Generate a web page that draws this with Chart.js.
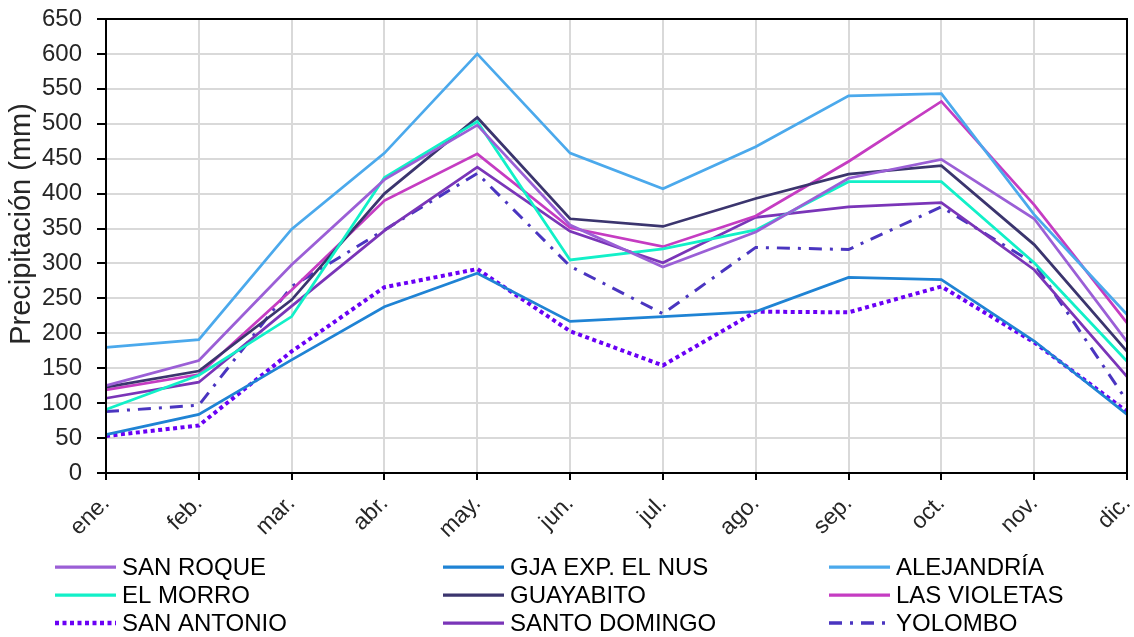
<!DOCTYPE html>
<html>
<head>
<meta charset="utf-8">
<script src="https://cdn.jsdelivr.net/npm/chart.js@4/dist/chart.umd.min.js"></script>
<style>
  html, body { margin: 0; padding: 0; background: #fff; }
  #caja { width: 1134px; height: 637px; }
</style>
</head>
<body>
<div id="caja"><canvas id="graficoPrecipitacion"></canvas></div>
<script>
// ======================================================
// 1. DADOS (mm por mês)
// ======================================================
const meses = ['ene.', 'feb.', 'mar.', 'abr.', 'may.', 'jun.', 'jul.', 'ago.', 'sep.', 'oct.', 'nov.', 'dic.'];
const ticksY = [0, 50, 100, 150, 200, 250, 300, 350, 400, 450, 500, 550, 600, 650];

const sanRoque     = [125, 161, 298, 420, 498, 355, 295, 345, 422, 449, 364, 188];
const gjaElNus     = [55, 84, 162, 238, 286, 217, 224, 231, 280, 277, 189, 84];
const alejandria   = [180, 191, 349, 458, 600, 458, 407, 467, 540, 543, 370, 227];
const elMorro      = [91, 140, 224, 423, 503, 305, 321, 348, 417, 417, 301, 160];
const guayabito    = [123, 146, 248, 400, 509, 364, 353, 393, 428, 440, 327, 174];
const lasVioletas  = [119, 141, 262, 390, 457, 351, 324, 368, 446, 532, 384, 215];
const sanAntonio   = [53, 68, 174, 266, 292, 203, 154, 231, 230, 267, 187, 88];
const santoDomingo = [107, 130, 239, 347, 438, 346, 301, 366, 381, 387, 291, 138];
const yolombo      = [88, 97, 267, 348, 429, 296, 228, 323, 320, 381, 300, 103];

const tituloY = 'Precipitación (mm)';
const fonte = '"Liberation Sans", Arial, sans-serif';

function serie(nome, valores, cor, extra) {
  return Object.assign({
    label: nome,
    data: valores,
    borderColor: cor,
    backgroundColor: cor,
    borderWidth: 2.75,
    pointRadius: 0,
    tension: 0,
    fill: false
  }, extra || {});
}

// ======================================================
// 2. PLUGINS: moldura, título do eixo Y e legenda em 3 colunas
// ======================================================
const moldura = {
  id: 'moldura',
  afterDatasetsDraw(chart) {
    const a = chart.chartArea;
    const ctx = chart.ctx;
    ctx.save();
    ctx.strokeStyle = '#000';
    ctx.lineWidth = 2;
    ctx.strokeRect(a.left, a.top, a.right - a.left, a.bottom - a.top);
    ctx.restore();
  }
};

const tituloEixo = {
  id: 'tituloEixo',
  afterDraw(chart) {
    const ctx = chart.ctx;
    ctx.save();
    ctx.translate(22, 224);
    ctx.rotate(-Math.PI / 2);
    ctx.font = '29px ' + fonte;
    ctx.fillStyle = '#262626';
    ctx.textAlign = 'center';
    ctx.textBaseline = 'middle';
    ctx.fillText(tituloY, 0, 0);
    ctx.restore();
  }
};

const legendaGrade = {
  id: 'legendaGrade',
  afterDraw(chart) {
    const ctx = chart.ctx;
    const colunas = [55, 443, 829];
    const linhas = [567, 595, 623];
    ctx.save();
    ctx.font = '24px ' + fonte;
    ctx.textBaseline = 'middle';
    chart.data.datasets.forEach((ds, i) => {
      const x = colunas[i % 3];
      const y = linhas[Math.floor(i / 3)];
      ctx.strokeStyle = ds.borderColor;
      ctx.lineWidth = ds.borderWidth + 0.5;
      ctx.setLineDash(ds.borderDash || []);
      ctx.beginPath();
      ctx.moveTo(x, y);
      ctx.lineTo(x + 61, y);
      ctx.stroke();
      ctx.setLineDash([]);
      ctx.fillStyle = '#000';
      ctx.fillText(ds.label, x + 67, y + 1);
    });
    ctx.restore();
  }
};

// ======================================================
// 3. GRÁFICO
// ======================================================
const ctx = document.getElementById('graficoPrecipitacion');

new Chart(ctx, {
  type: 'line',
  data: {
    labels: meses,
    datasets: [
      serie('SAN ROQUE', sanRoque, '#9b5fd6'),
      serie('GJA EXP. EL NUS', gjaElNus, '#1f83d4'),
      serie('ALEJANDRÍA', alejandria, '#4ba9ec'),
      serie('EL MORRO', elMorro, '#12f0c8'),
      serie('GUAYABITO', guayabito, '#3b356e'),
      serie('LAS VIOLETAS', lasVioletas, '#c53cc2'),
      serie('SAN ANTONIO', sanAntonio, '#6a00f5', { borderWidth: 4, borderDash: [4, 3.5], borderCapStyle: 'butt' }),
      serie('SANTO DOMINGO', santoDomingo, '#7a35b8'),
      serie('YOLOMBO', yolombo, '#4a35c0', { borderWidth: 3, borderDash: [13, 8, 3, 8] })
    ]
  },
  options: {
    responsive: true,
    maintainAspectRatio: false,
    animation: false,
    layout: { padding: { top: 19, right: 7, bottom: 84, left: 0 } },
    plugins: {
      legend: { display: false },
      tooltip: { enabled: false }
    },
    scales: {
      x: {
        offset: false,
        afterFit(scale) {
          scale.height = 80;
          scale.paddingLeft = 0;
          scale.paddingRight = 0;
        },
        grid: { color: '#d9d9d9', lineWidth: 2, tickColor: '#000', tickLength: 7, offset: false },
        border: { color: '#000', width: 2 },
        ticks: {
          color: '#262626',
          font: { family: fonte, size: 23 },
          minRotation: 45,
          maxRotation: 45,
          padding: 10,
          autoSkip: false
        }
      },
      y: {
        min: 0,
        max: 650,
        afterFit(scale) {
          scale.width = 106;
          scale.paddingTop = 0;
          scale.paddingBottom = 0;
        },
        afterBuildTicks(scale) { scale.ticks = ticksY.map(v => ({ value: v })); },
        grid: { color: '#d9d9d9', lineWidth: 2, tickColor: '#000', tickLength: 9 },
        border: { color: '#000', width: 2 },
        ticks: {
          color: '#262626',
          font: { family: fonte, size: 24 },
          padding: 15
        }
      }
    }
  },
  plugins: [moldura, tituloEixo, legendaGrade]
});
</script>
</body>
</html>
